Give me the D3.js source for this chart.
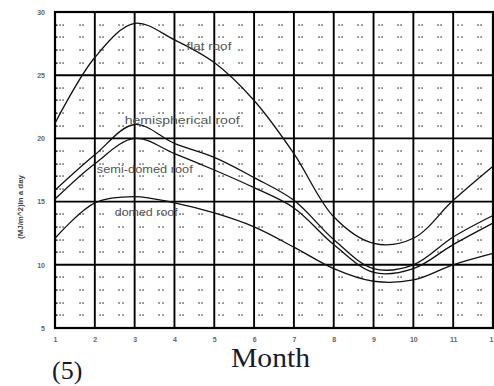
<!DOCTYPE html>
<html>
<head>
<meta charset="utf-8">
<script src="https://cdn.jsdelivr.net/npm/d3@7/dist/d3.min.js"></script>
<style>
  html, body { margin: 0; padding: 0; background: #fff; }
  svg { display: block; }
</style>
</head>
<body>
<svg id="chart" width="494" height="386"></svg>
<script>
// ---- data ----
const months = [1, 2, 3, 4, 5, 6, 7, 8, 9, 10, 11, 12];
const flatRoof = [21.2, 26.4, 29.1, 27.8, 26.0, 23.0, 18.8, 13.8, 11.7, 12.1, 15.1, 17.8];
const hemisphericalRoof = [15.9, 18.7, 21.1, 19.6, 18.5, 16.9, 15.1, 12.0, 9.7, 10.0, 12.2, 13.9];
const semiDomedRoof = [15.2, 18.0, 20.0, 18.8, 17.5, 16.1, 14.5, 11.6, 9.4, 9.7, 11.6, 13.3];
const domedRoof = [12.1, 14.9, 15.4, 14.9, 14.1, 13.0, 11.4, 9.7, 8.7, 8.8, 10.0, 10.9];
const seriesNames = ["flat roof", "hemispherical roof", "semi-domed roof", "domed roof"];
const yTicks = [5, 10, 15, 20, 25, 30];
const xTicks = months;
const xTitle = "Month";
const yTitle = "(MJ/m^2)in a day";
const panelLabel = "(5)";

// ---- layout ----
const svg = d3.select("#chart");
const x = d3.scaleLinear().domain([1, 12]).range([55, 493]);
const y = d3.scaleLinear().domain([5, 30]).range([328, 12]);

// minor dotted grid (dot pairs)
const dotG = svg.append("g").attr("fill", "#222");
const minorY = d3.range(6, 30).filter(v => v % 5 !== 0);
const minorXOffsets = [0.17, 0.66];
months.slice(0, -1).forEach(m => {
  minorXOffsets.forEach(o => {
    minorY.forEach(v => {
      [-1.6, 1.6].forEach(dx => {
        dotG.append("rect")
          .attr("x", Math.round(x(m + o) + dx) - 0.6)
          .attr("y", Math.round(y(v)) - 0.6)
          .attr("width", 1.3).attr("height", 1.3);
      });
    });
  });
});
// small inner ticks on left border
minorY.forEach(v => {
  dotG.append("rect").attr("x", x(1) + 1).attr("y", Math.round(y(v)) - 0.6)
    .attr("width", 1.5).attr("height", 1.5);
});

// major grid
const gridG = svg.append("g").attr("stroke", "#000").attr("stroke-width", 1.9);
months.forEach(m => {
  gridG.append("line").attr("x1", x(m)).attr("x2", x(m)).attr("y1", y(30)).attr("y2", y(5));
});
yTicks.forEach(v => {
  gridG.append("line").attr("x1", x(1)).attr("x2", x(12)).attr("y1", y(v)).attr("y2", y(v));
});
// frame
svg.append("rect")
  .attr("x", x(1)).attr("y", y(30))
  .attr("width", x(12) - x(1)).attr("height", y(5) - y(30))
  .attr("fill", "none").attr("stroke", "#000").attr("stroke-width", 2.2);

// curves
const line = d3.line()
  .x((d, i) => x(months[i]))
  .y(d => y(d))
  .curve(d3.curveCatmullRom.alpha(0.5));
[flatRoof, hemisphericalRoof, semiDomedRoof, domedRoof].forEach(s => {
  svg.append("path").attr("d", line(s))
    .attr("fill", "none").attr("stroke", "#111").attr("stroke-width", 1.3);
});

// series labels
const labelPos = [
  {x: 4.3, y: 27.0, w: 45},
  {x: 2.75, y: 21.1, w: 115},
  {x: 2.05, y: 17.3, w: 96},
  {x: 2.5, y: 13.9, w: 63}
];
seriesNames.forEach((n, i) => {
  svg.append("text")
    .attr("x", x(labelPos[i].x)).attr("y", y(labelPos[i].y))
    .attr("font-family", "Liberation Sans, Arial, sans-serif")
    .attr("font-size", 10)
    .attr("textLength", labelPos[i].w)
    .attr("lengthAdjust", "spacingAndGlyphs")
    .attr("fill", "#555")
    .text(n);
});

// axes (labels only)
const yAxis = d3.axisLeft(y).tickValues(yTicks).tickSize(0).tickPadding(10);
const yg = svg.append("g").attr("transform", `translate(${x(1)},0)`).call(yAxis);
const xAxis = d3.axisBottom(x).tickValues(xTicks).tickSize(0).tickPadding(9);
const xg = svg.append("g").attr("transform", `translate(0,${y(5)})`).call(xAxis);
[yg, xg].forEach(g => {
  g.select(".domain").remove();
  g.selectAll("text")
    .attr("font-family", "Liberation Sans, Arial, sans-serif")
    .attr("font-size", 7).attr("font-weight", "bold").attr("fill", "#666");
});

// axis titles
svg.append("text")
  .attr("transform", `translate(23,207) rotate(-90)`)
  .attr("text-anchor", "middle")
  .attr("font-family", "Liberation Sans, Arial, sans-serif")
  .attr("font-size", 8).attr("font-weight", "bold")
  .attr("textLength", 64).attr("lengthAdjust", "spacingAndGlyphs")
  .attr("fill", "#444")
  .text(yTitle);

svg.append("text")
  .attr("x", 231).attr("y", 367)
  .attr("font-family", "Liberation Serif, Times New Roman, serif")
  .attr("font-size", 28)
  .attr("textLength", 79).attr("lengthAdjust", "spacingAndGlyphs")
  .attr("fill", "#1a1a2a")
  .text(xTitle);

svg.append("text")
  .attr("x", 52).attr("y", 379)
  .attr("font-family", "Liberation Serif, Times New Roman, serif")
  .attr("font-size", 26)
  .attr("fill", "#1a1a2a")
  .text(panelLabel);
</script>
</body>
</html>
